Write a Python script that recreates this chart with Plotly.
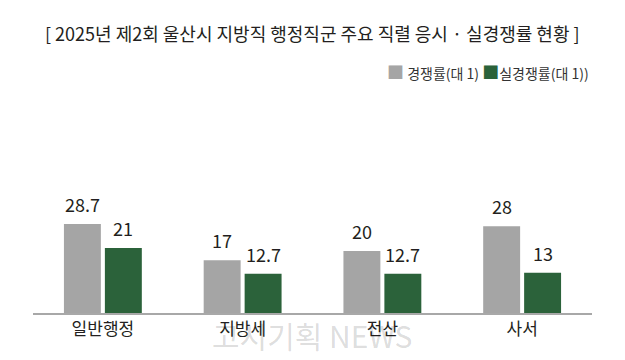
import plotly.graph_objects as go

categories = ["일반행정", "지방세", "전산", "사서"]
series_names = ["경쟁률(대 1)", "실경쟁률(대 1))"]
competition = [28.7, 17, 20, 28]
real_competition = [21, 12.7, 12.7, 13]
value_labels_1 = ["28.7", "17", "20", "28"]
value_labels_2 = ["21", "12.7", "12.7", "13"]
title_text = "[ 2025년 제2회 울산시 지방직 행정직군 주요 직렬 응시 · 실경쟁률 현황 ]"
watermark = "고시기획 NEWS"

GRAY = "#a5a5a5"
GREEN = "#2b623a"
TEXT = "#231f20"
FONT = "Noto Sans CJK KR"

# page body has an 8px margin: figure is laid out in page pixels minus 8
OFF = 8
W, H = 625 - OFF, 360 - OFF
ml, mr, mt, mb = 33 - OFF, 33, 95 - OFF, 47
pw, ph = W - ml - mr, H - mt - mb


def px_to_paper(x, y):
    return (x - OFF - ml) / pw, (H - mb - (y - OFF)) / ph


fig = go.Figure()
fig.add_trace(go.Bar(x=categories, y=competition, name=series_names[0],
                     marker=dict(color=GRAY, line=dict(width=0))))
fig.add_trace(go.Bar(x=categories, y=real_competition, name=series_names[1],
                     marker=dict(color=GREEN, line=dict(width=0))))

annotations = []
for i, c in enumerate(categories):
    annotations.append(dict(x=c, y=competition[i], text=value_labels_1[i], xref="x", yref="y",
                            xshift=-20.5, yshift=5, yanchor="bottom", showarrow=False,
                            font=dict(family=FONT, size=18, color=TEXT)))
    annotations.append(dict(x=c, y=real_competition[i], text=value_labels_2[i], xref="x", yref="y",
                            xshift=20.5, yshift=5, yanchor="bottom", showarrow=False,
                            font=dict(family=FONT, size=18, color=TEXT)))

tx, ty = px_to_paper(312, 33)
annotations.append(dict(x=tx, y=ty, xref="paper", yref="paper", text=title_text, showarrow=False,
                        xanchor="center", yanchor="middle",
                        font=dict(family=FONT, size=18, color=TEXT)))

lx, ly = px_to_paper(591, 71)
legend_text = (f"<span style='color:{GRAY};font-size:17px'>■</span> {series_names[0]} "
               f"<span style='color:{GREEN};font-size:17px'>■</span>{series_names[1]}")
annotations.append(dict(x=lx, y=ly, xref="paper", yref="paper", text=legend_text, showarrow=False,
                        xanchor="right", yanchor="middle",
                        font=dict(family=FONT, size=14, color="#333333")))

wx, wy = px_to_paper(312, 335)
annotations.append(dict(x=wx, y=wy, xref="paper", yref="paper", text=watermark, showarrow=False,
                        xanchor="center", yanchor="middle",
                        font=dict(family=FONT, size=30, color="rgba(0,0,0,0.15)")))

fig.update_layout(
    width=W, height=H,
    margin=dict(l=ml, r=mr, t=mt, b=mb, pad=0),
    paper_bgcolor="white", plot_bgcolor="white",
    barmode="group", bargap=0.414, bargroupgap=0.098,
    font=dict(family=FONT, color=TEXT),
    annotations=annotations,
    showlegend=False,
    xaxis=dict(showline=True, linecolor="#a8a8a8", linewidth=1.5, ticks="",
               tickfont=dict(family=FONT, size=17, color=TEXT), showgrid=False, zeroline=False),
    yaxis=dict(range=[0, 218 / 3.1], visible=False, showgrid=False, zeroline=False),
)

fig.write_html("out.html")
